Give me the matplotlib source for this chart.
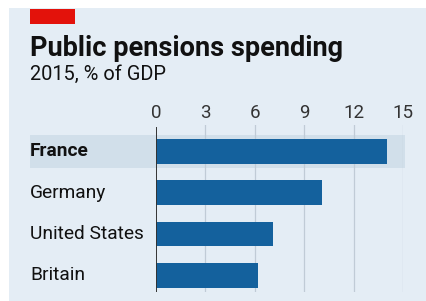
import matplotlib
matplotlib.use("Agg")
import matplotlib.pyplot as plt
from matplotlib.patches import Rectangle
import matplotlib.transforms as mtransforms

countries = ["France", "Germany", "United States", "Britain"]
spending = [14.0, 10.1, 7.1, 6.2]
ticks = [0, 3, 6, 9, 12, 15]

W, H = 426, 301
BG = "#e4edf5"
BAR = "#14619d"
BAND = "#d1dfea"

plt.rcParams["font.family"] = ["Roboto", "DejaVu Sans"]

fig = plt.figure(figsize=(W / 100, H / 100), dpi=100)
fig.patch.set_facecolor("white")

# panel and red tag
fig.patches.append(Rectangle((9 / W, 0), 1, 1 - 8 / H, transform=fig.transFigure,
                             facecolor=BG, edgecolor="none", zorder=0))
fig.patches.append(Rectangle((30 / W, 1 - 24 / H), 45 / W, 15 / H, transform=fig.transFigure,
                             facecolor="#e3120b", edgecolor="none", zorder=1))

fig.text(30 / W, 1 - 56 / H, "Public pensions spending", fontsize=19.5, fontweight="bold",
         color="#111111", va="baseline", ha="left")
fig.text(30 / W, 1 - 80 / H, "2015, % of GDP", fontsize=14.4, color="#111111",
         va="baseline", ha="left")

x0, x1 = 156, 403
y_top, y_bot = 125, 292
ax = fig.add_axes([x0 / W, 1 - y_bot / H, (x1 - x0) / W, (y_bot - y_top) / H])
ax.set_zorder(2)
ax.set_facecolor("none")
ax.set_xlim(0, 15)
ylo = (y_bot - 151.5) / 41.3
yhi = (y_top - 151.5) / 41.3
ax.set_ylim(ylo, yhi)

ypos = list(range(len(countries)))

# highlight band for France
trans = mtransforms.blended_transform_factory(fig.transFigure, ax.transData)
ax.add_patch(Rectangle((30 / W, -0.39), (405 - 30) / W, 0.78, transform=trans,
                       facecolor=BAND, edgecolor="none", clip_on=False, zorder=0))

for t in ticks[1:]:
    ax.axvline(t, color="#c0cbd6", lw=0.9, zorder=1)
ax.barh(ypos, spending, height=0.6, color=BAR, zorder=2)
ax.axvline(0, ymax=1 - 3 / (y_bot - y_top), color="#333333", lw=1.4, zorder=3)

for s in ax.spines.values():
    s.set_visible(False)
ax.xaxis.tick_top()
ax.set_xticks(ticks)
ax.set_xticklabels([str(t) for t in ticks])
ax.tick_params(axis="x", length=0, pad=2, labelsize=13.5, labelcolor="#333333")
ax.set_yticks([])

for y, c in zip(ypos, countries):
    ax.text(30 / W, y, c, transform=trans, fontsize=13.8, va="center", ha="left",
            color="#111111", fontweight="bold" if c == "France" else "normal")

fig.savefig("out.png", dpi=100, facecolor="white")
